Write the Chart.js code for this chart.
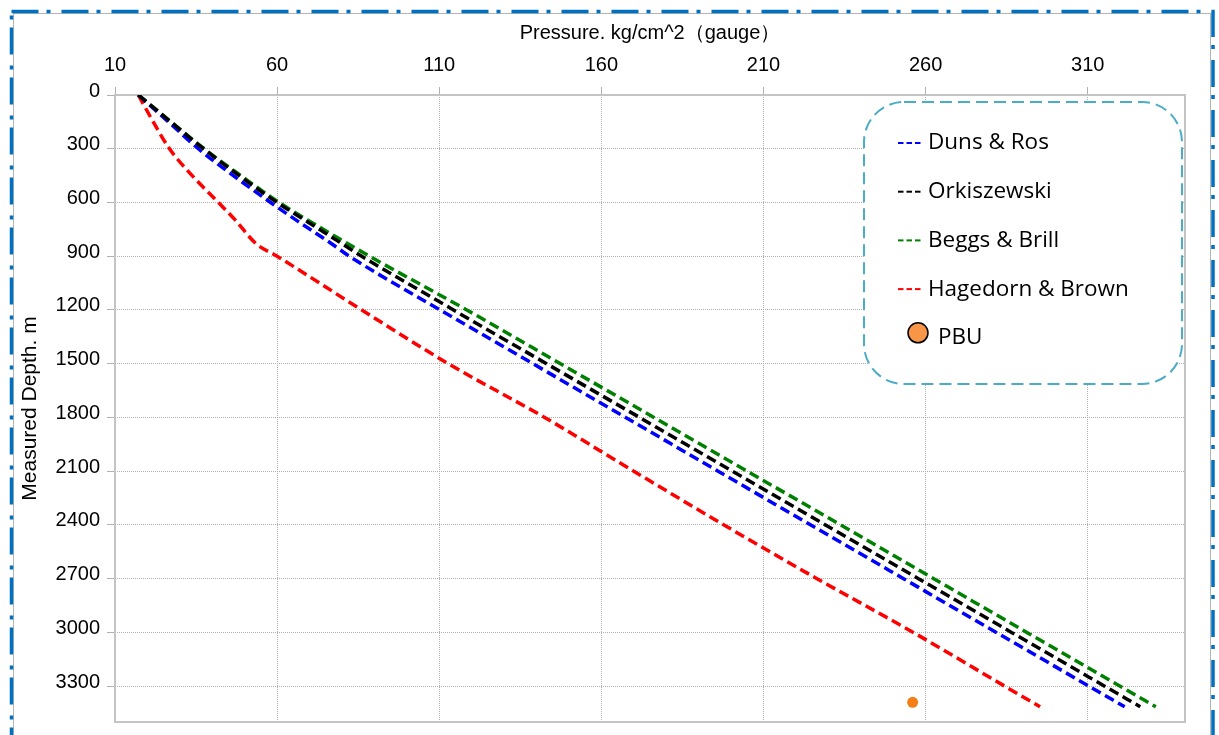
<!DOCTYPE html>
<html>
<head>
<meta charset="utf-8">
<script src="https://cdn.jsdelivr.net/npm/chart.js@4/dist/chart.umd.min.js"></script>
<style>
  html, body { margin: 0; padding: 0; background: #fff; }
</style>
</head>
<body>
<canvas id="depthChart" width="1219" height="735"></canvas>
<script>
// depth (m) shared by all four correlations
const depths = [0, 150, 300, 450, 600, 700, 830, 900, 1200, 1500, 1800, 2100, 2400, 2700, 3000, 3300, 3415];

// pressure, kg/cm^2 (gauge)
const dunsRos     = [17.2, 26.5, 35.7, 46.5, 58.0, 66.0, 76.8, 82.3, 110.3, 138.9, 167.5, 196.0, 224.6, 253.2, 281.8, 310.4, 321.4];
const orkiszewski = [17.2, 27.2, 37.3, 48.3, 60.0, 68.7, 80.0, 86.1, 114.4, 143.1, 171.8, 200.4, 229.1, 257.8, 286.5, 315.2, 326.2];
const beggsBrill  = [17.2, 27.3, 37.5, 48.8, 60.6, 69.6, 81.8, 88.5, 118.5, 147.4, 176.2, 205.0, 233.8, 262.5, 291.2, 320.0, 331.0];
const hagedorn    = [17.2, 21.8, 26.8, 33.8, 41.9, 47.2, 53.5, 60.0, 86.1, 112.8, 142.5, 170.0, 197.8, 226.5, 256.2, 284.4, 295.3];

// measured point
const pbuPressure = [256];
const pbuDepth = [3390];

// axis ticks
const pressureTicks = [10, 60, 110, 160, 210, 260, 310];
const depthTicks = [0, 300, 600, 900, 1200, 1500, 1800, 2100, 2400, 2700, 3000, 3300];

const toPoints = (vals) => vals.map((p, i) => ({ x: p, y: depths[i] }));

const lineStyle = {
    showLine: true,
    borderWidth: 3.5,
    borderDash: [10, 5],
    pointRadius: 0,
    fill: false,
    cubicInterpolationMode: 'monotone'
};

// outer dash-dot page frame
const pageFrame = {
    id: 'pageFrame',
    beforeDraw(chart) {
        const ctx = chart.ctx;
        ctx.save();
        ctx.fillStyle = '#fff';
        ctx.fillRect(0, 0, chart.width, chart.height);
        ctx.strokeStyle = '#b4b4b4';
        ctx.lineWidth = 1;
        ctx.strokeRect(13.5, 13.5, 1197, 740);
        ctx.strokeStyle = '#0070C0';
        ctx.lineWidth = 3.5;
        ctx.setLineDash([27, 8, 4, 11]);
        ctx.strokeRect(11.5, 11.5, 1201.5, 745);
        ctx.restore();
    }
};

// solid grey frame round the plot
const plotFrame = {
    id: 'plotFrame',
    beforeDatasetsDraw(chart) {
        const { ctx, chartArea: a } = chart;
        ctx.save();
        ctx.strokeStyle = '#c4c4c4';
        ctx.lineWidth = 2;
        ctx.strokeRect(a.left, a.top, a.right - a.left, a.bottom - a.top);
        ctx.restore();
    }
};

// rounded dashed legend box
const boxLegend = {
    id: 'boxLegend',
    afterDraw(chart) {
        const ctx = chart.ctx;
        ctx.save();
        ctx.beginPath();
        ctx.roundRect(864, 102, 318, 282, 40);
        ctx.fillStyle = '#fff';
        ctx.fill();
        ctx.setLineDash([12, 6]);
        ctx.strokeStyle = '#4BACC6';
        ctx.lineWidth = 2;
        ctx.stroke();

        ctx.font = '22.5px "Open Sans"';
        ctx.textBaseline = 'middle';
        chart.data.datasets.forEach((ds, i) => {
            const y = 143 + i * 48.7;
            if (ds.showLine) {
                ctx.setLineDash([]);
                ctx.strokeStyle = ds.borderColor;
                ctx.lineWidth = 2;
                for (let k = 0; k < 3; k++) {
                    ctx.beginPath();
                    ctx.moveTo(898 + k * 8.5, y);
                    ctx.lineTo(903.5 + k * 8.5, y);
                    ctx.stroke();
                }
                ctx.fillStyle = '#000';
                ctx.fillText(ds.label, 928, y);
            } else {
                ctx.beginPath();
                ctx.arc(918, y - 5, 10, 0, Math.PI * 2);
                ctx.fillStyle = '#F79646';
                ctx.fill();
                ctx.setLineDash([]);
                ctx.strokeStyle = '#000';
                ctx.lineWidth = 1.5;
                ctx.stroke();
                ctx.fillStyle = '#000';
                ctx.fillText(ds.label, 938, y);
            }
        });
        ctx.restore();
    }
};

const gridStyle = { color: '#b0b0b0', lineWidth: 1, tickLength: 8 };

const ctx = document.getElementById('depthChart').getContext('2d');
const depthChart = new Chart(ctx, {
    type: 'scatter',
    data: {
        datasets: [
            { ...lineStyle, label: 'Duns & Ros', data: toPoints(dunsRos), borderColor: '#0000FF', order: 1 },
            { ...lineStyle, label: 'Orkiszewski', data: toPoints(orkiszewski), borderColor: '#000000', order: 0 },
            { ...lineStyle, label: 'Beggs & Brill', data: toPoints(beggsBrill), borderColor: '#008000', order: 2 },
            { ...lineStyle, label: 'Hagedorn & Brown', data: toPoints(hagedorn), borderColor: '#FF0000', order: 3 },
            {
                label: 'PBU',
                data: pbuPressure.map((p, i) => ({ x: p, y: pbuDepth[i] })),
                showLine: false,
                pointRadius: 5.5,
                pointBackgroundColor: '#F47F17',
                pointBorderWidth: 0,
                order: -1
            }
        ]
    },
    options: {
        responsive: false,
        devicePixelRatio: 1,
        animation: false,
        layout: { padding: { left: 0, top: 0, right: 34, bottom: 13 } },
        plugins: {
            legend: { display: false },
            tooltip: { enabled: false }
        },
        scales: {
            x: {
                type: 'linear',
                position: 'top',
                min: 10,
                max: 340,
                afterFit(scale) {
                    scale.height = 95;
                    scale.paddingLeft = 0;
                    scale.paddingRight = 0;
                },
                afterBuildTicks(scale) { scale.ticks = pressureTicks.map(v => ({ value: v })); },
                title: {
                    display: true,
                    text: 'Pressure. kg/cm^2（gauge）',
                    color: '#000',
                    font: { family: 'Liberation Sans', size: 20 },
                    padding: { top: 21, bottom: 0 }
                },
                ticks: {
                    color: '#000',
                    font: { family: 'Liberation Sans', size: 20 },
                    padding: 10,
                    maxRotation: 0,
                    callback: (v) => String(v)
                },
                grid: gridStyle,
                border: { display: false, dash: [1, 1] }
            },
            y: {
                type: 'linear',
                reverse: true,
                min: 0,
                max: 3500,
                afterFit(scale) {
                    scale.width = 115;
                    scale.paddingTop = 0;
                    scale.paddingBottom = 0;
                },
                afterBuildTicks(scale) { scale.ticks = depthTicks.map(v => ({ value: v })); },
                title: {
                    display: true,
                    text: 'Measured Depth. m',
                    color: '#000',
                    font: { family: 'Liberation Sans', size: 21 },
                    padding: { top: 18, bottom: 0 }
                },
                ticks: {
                    color: '#000',
                    font: { family: 'Liberation Sans', size: 20 },
                    padding: 7,
                    labelOffset: -4,
                    callback: (v) => String(v)
                },
                grid: gridStyle,
                border: { display: false, dash: [1, 1] }
            }
        }
    },
    plugins: [pageFrame, plotFrame, boxLegend]
});
</script>
</body>
</html>
